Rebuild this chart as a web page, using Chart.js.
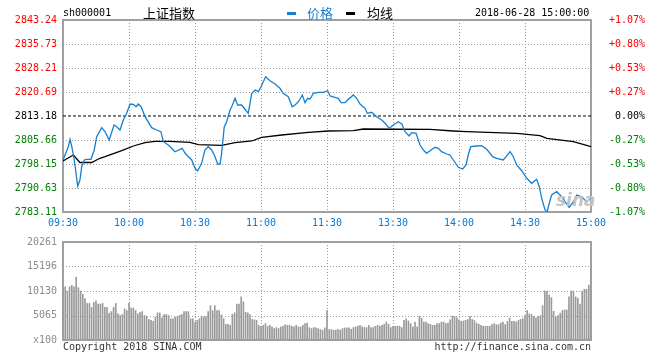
<!DOCTYPE html>
<html>
<head>
<meta charset="utf-8">
<script src="https://cdn.jsdelivr.net/npm/chart.js@4/dist/chart.umd.min.js"></script>
<style>
  body { margin: 0; background: #fff; }
  #wrap { position: relative; width: 645px; height: 356px; overflow: hidden; font-family: "DejaVu Sans Mono", monospace; }
  canvas { position: absolute; left: 0; }
  #priceCanvas { top: 0; }
  #volCanvas { top: 230px; }
  .txt { position: absolute; white-space: nowrap; font-size: 10px; line-height: 12px; }
  .cjk { font-family: "Noto Sans CJK SC", sans-serif; font-size: 13px; line-height: 15px; }
  .dash { position: absolute; width: 9px; height: 3px; }
</style>
</head>
<body>
<div id="wrap">
  <canvas id="priceCanvas" width="645" height="232"></canvas>
  <canvas id="volCanvas" width="645" height="126"></canvas>

  <div class="txt" style="left:63px; top:7px; color:#000;">sh000001</div>
  <div class="txt cjk" style="left:143px; top:5px; color:#000;">上证指数</div>
  <div class="dash" style="left:287px; top:12px; background:#1580d0;"></div>
  <div class="txt cjk" style="left:307px; top:5px; color:#1580d0;">价格</div>
  <div class="dash" style="left:346px; top:12px; background:#000;"></div>
  <div class="txt cjk" style="left:367px; top:5px; color:#000;">均线</div>
  <div class="txt" style="left:475px; top:7px; color:#000;">2018-06-28 15:00:00</div>

  <div class="txt" style="left:556px; top:190px; color:#c4c4c4; font: italic bold 17px 'DejaVu Sans', sans-serif;">sina</div>

  <div class="txt" style="left:63px; top:341px; color:#333;">Copyright 2018 SINA.COM</div>
  <div class="txt" style="right:54px; top:341px; color:#333;">http://finance.sina.com.cn</div>
</div>

<script>
// axis ticks
const timeTicks = [0, 30, 60, 90, 120, 150, 180, 210, 240];
const timeLabels = ["09:30", "10:00", "10:30", "11:00", "11:30", "13:30", "14:00", "14:30", "15:00"];
const priceTicks = [2783.11, 2790.63, 2798.15, 2805.66, 2813.18, 2820.69, 2828.21, 2835.73, 2843.24];
const pctLabels = ["-1.07%", "-0.80%", "-0.53%", "-0.27%", "0.00%", "+0.27%", "+0.53%", "+0.80%", "+1.07%"];
const prevClose = 2813.18;
const volTicks = [0, 5065, 10130, 15196, 20261];
const volTickLabels = ["x100", "5065", "10130", "15196", "20261"];

// price line (minutes after 09:30, trading time only)
const priceMinutes = [
  0, 2.4, 3.2, 4.0, 5.1, 6.7, 7.7, 8.5, 9.7, 10.8,
  12.7, 14.2, 15.3, 17.6, 19.1, 21.0, 23.2, 24.4, 25.9, 27.4,
  28.6, 30.5, 32.0, 33.2, 34.2, 35.5, 37.3, 40.3, 42.6, 44.5,
  45.6, 47.9, 49.4, 50.9, 54.2, 55.5, 57.0, 58.5, 60.0, 61.2,
  63.0, 64.5, 66.0, 67.6, 69.1, 70.3, 71.4, 72.1, 73.3, 74.4,
  75.9, 76.7, 78.2, 79.4, 81.2, 83.0, 84.2, 85.0, 85.8, 87.3,
  88.8, 90.0, 92.1, 94.1, 96.4, 98.6, 100.1, 102.4, 104.2, 105.5,
  107.0, 108.8, 110.0, 111.2, 112.3, 113.8, 116.0, 118.3, 120.3, 121.4,
  123.6, 125.1, 126.4, 128.2, 129.7, 132.0, 133.5, 135.0, 137.3, 138.3,
  140.3, 142.6, 144.9, 146.4, 148.3, 150.1, 152.4, 154.0, 155.5, 157.3,
  158.5, 160.5, 161.5, 162.3, 163.8, 165.3, 166.8, 169.1, 170.6, 172.1,
  174.4, 175.9, 177.4, 179.7, 181.7, 183.2, 184.2, 185.3, 188.0, 190.3,
  192.6, 195.3, 197.1, 200.1, 201.4, 203.2, 204.7, 206.2, 208.5, 210.8,
  213.0, 215.3, 216.5, 217.6, 219.1, 220.1, 221.0, 222.1, 224.4, 226.7,
  228.2, 230.1, 232.0, 233.5, 235.8, 238.0, 240
];
const priceValues = [
  2799.40, 2803.56, 2805.88, 2803.56, 2799.40, 2791.25, 2793.13, 2797.30, 2799.40, 2799.61,
  2799.61, 2802.53, 2806.69, 2809.51, 2808.26, 2805.66, 2810.36, 2809.82, 2808.79, 2811.92,
  2813.49, 2816.93, 2816.84, 2816.09, 2816.93, 2816.09, 2812.96, 2809.51, 2808.79, 2808.26,
  2805.13, 2804.09, 2803.06, 2801.99, 2803.06, 2801.49, 2800.43, 2799.40, 2796.80, 2795.95,
  2798.36, 2802.53, 2803.56, 2802.53, 2800.43, 2798.14, 2798.14, 2801.49, 2809.82, 2811.39,
  2815.05, 2816.09, 2818.72, 2816.62, 2816.62, 2815.05, 2814.02, 2817.15, 2820.28, 2821.32,
  2820.79, 2822.35, 2825.48, 2824.23, 2823.20, 2821.85, 2820.28, 2819.22, 2816.09, 2816.62,
  2817.65, 2819.75, 2817.34, 2818.72, 2818.50, 2820.28, 2820.60, 2820.60, 2821.10, 2819.44,
  2819.03, 2818.72, 2817.34, 2817.34, 2818.41, 2819.75, 2818.72, 2816.93, 2815.59, 2814.02,
  2814.33, 2812.96, 2811.92, 2810.89, 2809.32, 2810.36, 2811.39, 2810.67, 2808.26, 2806.91,
  2807.95, 2807.76, 2805.66, 2804.09, 2802.53, 2801.49, 2802.31, 2803.37, 2803.06, 2801.99,
  2801.27, 2800.96, 2799.40, 2797.11, 2796.58, 2797.83, 2800.96, 2803.56, 2803.78, 2803.87,
  2802.75, 2800.43, 2799.93, 2799.40, 2800.43, 2801.99, 2800.43, 2797.83, 2796.04, 2793.66,
  2792.10, 2793.35, 2791.03, 2787.40, 2783.74, 2783.20, 2785.83, 2788.43, 2789.47, 2787.90,
  2786.34, 2784.58, 2786.34, 2788.43, 2787.90, 2786.34, 2787.40
];

// average line
const avgMinutes = [0, 4.7, 7.7, 13.0, 16.8, 19.1, 26.7, 32.0, 37.3, 41.8, 48.6, 57.7, 61.5, 72.1, 78.2,
  85.8, 90.3, 99.4, 111.5, 120.6, 132.0, 136.5, 166.8, 177.4, 183.5, 206.2, 216.8, 219.9, 232.0, 240];
const avgValues = [2799.08, 2800.96, 2798.61, 2798.61, 2799.93, 2800.43, 2802.31, 2803.78, 2804.81, 2805.25,
  2805.25, 2804.94, 2804.19, 2804.00, 2804.81, 2805.35, 2806.50, 2807.22, 2808.07, 2808.48,
  2808.57, 2809.10, 2809.01, 2808.48, 2808.26, 2807.76, 2807.01, 2806.19, 2805.13, 2803.56];

// volume per minute (x100), 09:30-11:30 and 13:01-15:00
const volMorning = [
  11000, 11000, 10100, 11000, 11300, 11000, 13000, 10800, 10100, 9450,
  8580, 7560, 7560, 6750, 7770, 8100, 7430, 7430, 7560, 6750,
  6750, 5540, 5880, 6750, 7560, 5400, 5070, 5270, 6420, 6080,
  7630, 6620, 6620, 6080, 5400, 5740, 5880, 5070, 4930, 4250,
  4050, 3850, 4730, 5610, 5610, 4590, 5270, 5270, 5070, 4390,
  4390, 4730, 4930, 5070, 5270, 5880, 5880, 5880, 4390, 4390,
  3710, 4050, 4390, 4930, 4730, 4860, 5880, 7090, 6080, 7090,
  6080, 6080, 5200, 4390, 3240, 3240, 3040, 5270, 5610, 7430,
  7430, 8920, 7900, 5740, 5610, 5270, 4250, 4190, 4050, 3040,
  2840, 3040, 3380, 2840, 3040, 2700, 2360, 2570, 2360, 2700,
  2840, 3170, 3040, 3040, 2840, 2700, 3040, 2700, 2700, 3040,
  3380, 3510, 2570, 2360, 2570, 2500, 2360, 2160, 2030, 2500,
  6080
];
const volAfternoon = [
  2160, 2160, 2030, 2030, 2230, 2030, 2360, 2500, 2500, 2500,
  2230, 2570, 2700, 2840, 3040, 2700, 2570, 2570, 3040, 2570,
  2570, 2840, 3040, 2840, 3040, 3240, 3710, 3240, 2570, 2840,
  2840, 2840, 2840, 2570, 4050, 4390, 3920, 3380, 2700, 3710,
  2700, 4860, 4530, 3710, 3710, 3380, 3240, 3040, 3040, 3380,
  3380, 3710, 3710, 3380, 3510, 4190, 4930, 4860, 4590, 4190,
  3850, 3920, 4050, 4250, 4860, 4250, 4050, 3510, 3240, 3040,
  2840, 2840, 2840, 2840, 3170, 3380, 3170, 3170, 3510, 3710,
  3170, 3850, 4530, 3850, 3850, 3710, 4050, 4250, 4390, 5070,
  6080, 5400, 5270, 4860, 4590, 4860, 5070, 7090, 10130, 10130,
  9320, 8780, 5940, 4730, 5070, 5540, 6080, 6210, 6210, 8920,
  10130, 10130, 8920, 8650, 7430, 10130, 10470, 10470, 11350, 14860
];

const monoFont = { family: "'DejaVu Sans Mono', monospace", size: 10 };
const noGrid = { display: false, drawTicks: false };

function priceColor(v) {
  if (Math.abs(v - prevClose) < 0.001) return "#000000";
  return v > prevClose ? "#ff0000" : "#008000";
}

// dotted grid at the scale ticks (prev close gets its own dashed line)
const dottedGrid = {
  id: "dottedGrid",
  beforeDatasetsDraw(chart) {
    const a = chart.chartArea;
    const c = chart.ctx;
    const xs = chart.scales.x;
    const ys = chart.scales.y;
    c.save();
    c.strokeStyle = "#999999";
    c.lineWidth = 1;
    c.setLineDash([1, 2]);
    xs.ticks.forEach((t) => {
      const px = Math.round(xs.getPixelForValue(t.value)) + 0.5;
      c.beginPath();
      c.moveTo(px, a.top);
      c.lineTo(px, a.bottom);
      c.stroke();
    });
    ys.ticks.forEach((t) => {
      if (Math.abs(t.value - prevClose) < 0.001) return;
      const py = Math.round(ys.getPixelForValue(t.value)) + 0.5;
      c.beginPath();
      c.moveTo(a.left, py);
      c.lineTo(a.right, py);
      c.stroke();
    });
    c.restore();
  },
};

// gray box around the plot area
const frame = {
  id: "frame",
  beforeDatasetsDraw(chart) {
    const a = chart.chartArea;
    const c = chart.ctx;
    c.save();
    c.strokeStyle = "#a0a0a0";
    c.lineWidth = 2;
    c.strokeRect(a.left, a.top, a.right - a.left, a.bottom - a.top);
    c.restore();
  },
};

const timeAxis = {
  type: "linear",
  min: 0,
  max: 240,
  afterBuildTicks: (s) => { s.ticks = timeTicks.map((v) => ({ value: v })); },
  grid: noGrid,
  border: { display: false },
};

new Chart(document.getElementById("priceCanvas"), {
  type: "line",
  data: {
    datasets: [
      {
        label: "价格",
        data: priceMinutes.map((m, i) => ({ x: m, y: priceValues[i] })),
        borderColor: "#1580d0",
        borderWidth: 1.3,
        pointRadius: 0,
        tension: 0,
      },
      {
        label: "均线",
        data: avgMinutes.map((m, i) => ({ x: m, y: avgValues[i] })),
        borderColor: "#000000",
        borderWidth: 1.3,
        pointRadius: 0,
        tension: 0,
      },
      {
        label: "昨收",
        data: [{ x: 0, y: prevClose }, { x: 240, y: prevClose }],
        borderColor: "#000000",
        borderWidth: 1,
        borderDash: [3, 2],
        pointRadius: 0,
      },
    ],
  },
  options: {
    responsive: false,
    animation: false,
    layout: { padding: { top: 20, left: 0, right: 0, bottom: 0 } },
    plugins: { legend: { display: false }, tooltip: { enabled: false } },
    scales: {
      x: Object.assign({}, timeAxis, {
        afterFit: (s) => { s.height = 20; },
        ticks: {
          autoSkip: false,
          maxRotation: 0,
          padding: 5,
          color: "#0a78d0",
          font: monoFont,
          callback: (v, i) => timeLabels[i],
        },
      }),
      y: {
        type: "linear",
        position: "left",
        min: priceTicks[0],
        max: priceTicks[priceTicks.length - 1],
        afterBuildTicks: (s) => { s.ticks = priceTicks.map((v) => ({ value: v })); },
        afterFit: (s) => { s.width = 63; },
        grid: noGrid,
        border: { display: false },
        ticks: {
          padding: 6,
          font: monoFont,
          color: (c) => priceColor(c.tick.value),
          callback: (v) => v.toFixed(2),
        },
      },
      y2: {
        type: "linear",
        position: "right",
        min: priceTicks[0],
        max: priceTicks[priceTicks.length - 1],
        afterBuildTicks: (s) => { s.ticks = priceTicks.map((v) => ({ value: v })); },
        afterFit: (s) => { s.width = 54; },
        grid: noGrid,
        border: { display: false },
        ticks: {
          padding: 5,
          crossAlign: "far",
          font: monoFont,
          color: (c) => priceColor(c.tick.value),
          callback: (v, i) => pctLabels[i],
        },
      },
    },
  },
  plugins: [dottedGrid, frame],
});

const volumes = volMorning.concat(volAfternoon);

new Chart(document.getElementById("volCanvas"), {
  type: "bar",
  data: {
    datasets: [
      {
        label: "成交量",
        data: volumes.map((v, i) => ({ x: i, y: v })),
        backgroundColor: "#9a9a9a",
        barThickness: 1,
      },
    ],
  },
  options: {
    responsive: false,
    animation: false,
    layout: { padding: { top: 10, left: 0, right: 54, bottom: 0 } },
    plugins: { legend: { display: false }, tooltip: { enabled: false } },
    scales: {
      x: Object.assign({}, timeAxis, {
        offset: false,
        afterFit: (s) => { s.height = 16; },
        ticks: { display: false },
      }),
      y: {
        type: "linear",
        min: 0,
        max: volTicks[volTicks.length - 1],
        afterBuildTicks: (s) => { s.ticks = volTicks.map((v) => ({ value: v })); },
        afterFit: (s) => { s.width = 63; },
        grid: noGrid,
        border: { display: false },
        ticks: {
          padding: 6,
          font: monoFont,
          color: "#8c8c8c",
          callback: (v, i) => volTickLabels[i],
        },
      },
    },
  },
  plugins: [dottedGrid, frame],
});
</script>
</body>
</html>
